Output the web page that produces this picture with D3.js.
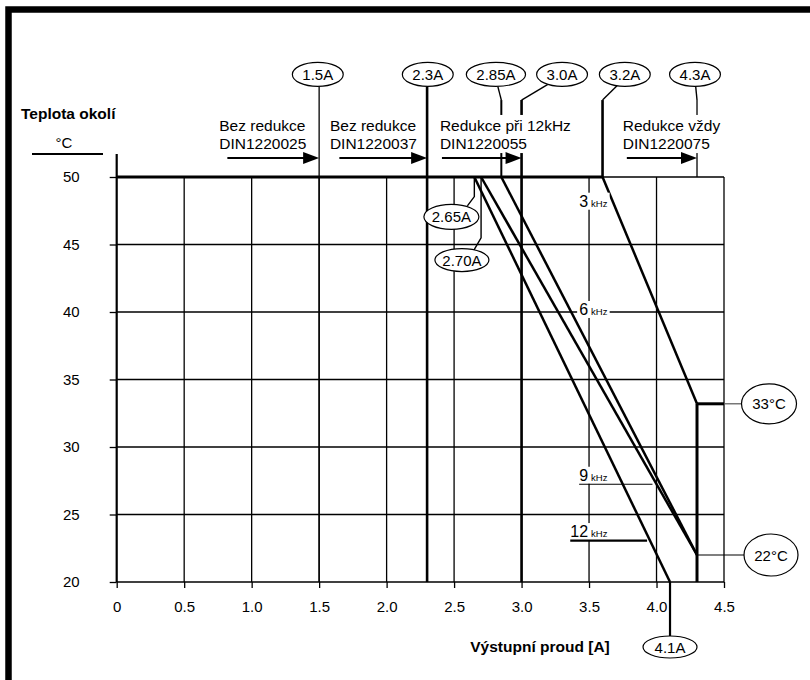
<!DOCTYPE html>
<html><head><meta charset="utf-8">
<script src="https://cdn.jsdelivr.net/npm/d3@7"></script>
<style>body{margin:0;background:#fff}svg{display:block;font-family:"Liberation Sans",Arial,Helvetica,sans-serif}</style>
</head><body><svg id="c" width="810" height="680"></svg>
<script>
// ---- data ----
const xTicks=[0,0.5,1,1.5,2,2.5,3,3.5,4,4.5];
const xTickLabels=["0","0.5","1.0","1.5","2.0","2.5","3.0","3.5","4.0","4.5"];
const yTicks=[20,25,30,35,40,45,50];
const yTickLabels=["20","25","30","35","40","45","50"];
const curveFreq=["3","6","9","12"];
const curveStartCurrent=[3.6,2.85,2.70,2.65];
const curveEndCurrent=[4.3,4.3,4.3,4.1];
const curveEndTemp=[33.2,22,22,20];
const markerLabels=["1.5A","2.3A","2.85A","3.0A","3.2A","4.3A"];
const markerCurrent=[1.5,2.3,2.85,3.0,3.6,4.3];
const markerLabelCurrent=[1.49,2.305,2.81,3.30,3.765,4.285];
const markerEndTemp=[20,20,50,20,50,50];
const markerWidth=[1.3,2.6,2,2.6,2.6,1.3];
const zoneTitles=["Bez redukce","Bez redukce","Redukce při 12kHz","Redukce vždy"];
const zoneModels=["DIN1220025","DIN1220037","DIN1220055","DIN1220075"];
const zoneFrom=[0.82,1.65,2.41,3.78];
const zoneTo=[1.5,2.3,3.0,4.3];
const zoneTextAt=[0.76,1.58,2.395,3.75];

// ---- scales ----
const svg=d3.select("#c");
const x=d3.scaleLinear().domain([0,4.5]).range([116.7,724]);
const y=d3.scaleLinear().domain([20,50]).range([582,177]);
const FS=15;
const FF='"Liberation Sans",Arial,sans-serif';

// frame
svg.append("rect").attr("x",8.5).attr("y",9.5).attr("width",1000).attr("height",1000)
  .attr("fill","none").attr("stroke","#000").attr("stroke-width",6.5);

// grid
const g=svg.append("g");
g.selectAll(".vg").data(xTicks.slice(1)).enter().append("line")
  .attr("x1",d=>x(d)).attr("x2",d=>x(d)).attr("y1",y(50)).attr("y2",y(20))
  .attr("stroke","#000").attr("stroke-width",1.3);
g.selectAll(".hg").data(yTicks.slice(0,-1)).enter().append("line")
  .attr("x1",x(0)).attr("x2",x(4.5)).attr("y1",d=>y(d)).attr("y2",d=>y(d))
  .attr("stroke","#000").attr("stroke-width",1.3);
g.append("line").attr("x1",x(0)).attr("x2",x(4.5)).attr("y1",y(50)).attr("y2",y(50))
  .attr("stroke","#000").attr("stroke-width",1.3);

// axes
const xa=svg.append("g").attr("transform",`translate(0,${y(20)})`)
  .call(d3.axisBottom(x).tickValues(xTicks).tickFormat((d,i)=>xTickLabels[i]).tickSize(6).tickPadding(13));
const ya=svg.append("g").attr("transform",`translate(${x(0)},0)`)
  .call(d3.axisLeft(y).tickValues(yTicks).tickFormat((d,i)=>yTickLabels[i]).tickSize(7).tickPadding(30));
[xa,ya].forEach(a=>{a.select(".domain").remove();
  a.attr("font-size",null).attr("font-family",null);
  a.selectAll("line").attr("stroke","#000").attr("stroke-width",1.3);
  a.selectAll("text").attr("fill","#000").style("font-size",FS+"px").style("font-family",FF);});
svg.append("line").attr("x1",x(0)).attr("x2",x(0)).attr("y1",y(51.7)).attr("y2",y(20))
  .attr("stroke","#000").attr("stroke-width",2.2);

// layers for top markers
const leadG=svg.append("g"), ellG=svg.append("g"), labG=svg.append("g");
const topCy=y(57.6), ry=12, bendY=y(55.7);
markerLabels.forEach((lab,i)=>{
  const mx=x(markerCurrent[i]), cx=x(markerLabelCurrent[i]);
  const t=labG.append("text").attr("x",cx).attr("y",topCy).attr("text-anchor","middle")
    .attr("dominant-baseline","central").style("font-size",FS+"px").text(lab);
  const w=t.node().getComputedTextLength(); const rx=w/2+10;
  const diff=mx-cx;
  if(Math.abs(diff)<2){
    leadG.append("line").attr("x1",mx).attr("x2",mx).attr("y1",topCy+ry).attr("y2",y(markerEndTemp[i]))
      .attr("stroke","#000").attr("stroke-width",markerWidth[i]);
  } else {
    const dx=diff*0.35; const ey=topCy+ry*Math.sqrt(1-(dx/rx)*(dx/rx));
    leadG.append("path").attr("d",d3.line()([[cx+dx,ey],[mx,bendY]])).attr("fill","none")
      .attr("stroke","#000").attr("stroke-width",1.4);
    leadG.append("line").attr("x1",mx).attr("x2",mx).attr("y1",bendY).attr("y2",y(markerEndTemp[i]))
      .attr("stroke","#000").attr("stroke-width",markerWidth[i]);
  }
  ellG.append("ellipse").attr("cx",cx).attr("cy",topCy).attr("rx",rx).attr("ry",ry)
    .attr("fill","#fff").attr("stroke","#000").attr("stroke-width",1.2);
});

// thick 50°C line up to 3kHz knee
svg.append("line").attr("x1",x(0)).attr("x2",x(curveStartCurrent[0])).attr("y1",y(50)).attr("y2",y(50))
  .attr("stroke","#000").attr("stroke-width",3);
svg.append("line").attr("x1",x(4.3)).attr("x2",x(4.3)).attr("y1",y(curveEndTemp[0])).attr("y2",y(20))
  .attr("stroke","#000").attr("stroke-width",3);

// derating curves
curveFreq.forEach((f,i)=>{
  svg.append("line").attr("x1",x(curveStartCurrent[i])).attr("y1",y(50))
    .attr("x2",x(curveEndCurrent[i])).attr("y2",y(curveEndTemp[i]))
    .attr("stroke","#000").attr("stroke-width",2.5);
});

// zone arrows and texts
const arrowY=y(51.4);
zoneTitles.forEach((t,i)=>{
  const x0=x(zoneFrom[i]), x1=x(zoneTo[i]);
  const tg=svg.append("g");
  const bg=tg.append("rect").attr("fill","#fff");
  tg.append("text").attr("x",x(zoneTextAt[i])).attr("y",y(53.41)).style("font-size","15.5px").text(t);
  tg.append("text").attr("x",x(zoneTextAt[i])).attr("y",y(52.07)).style("font-size","15.5px").text(zoneModels[i]);
  const bb=tg.node().getBBox();
  bg.attr("x",bb.x-2).attr("y",bb.y-2).attr("width",bb.width+4).attr("height",bb.height+3);
  svg.append("line").attr("x1",x0).attr("x2",x1-12).attr("y1",arrowY).attr("y2",arrowY)
    .attr("stroke","#000").attr("stroke-width",2);
  svg.append("path").attr("d",`M${x1},${arrowY}L${x1-16},${arrowY-6}L${x1-16},${arrowY+6}Z`).attr("fill","#000");
});

function ellLabel(cx,cy,txt,rx,ryy){
  svg.append("ellipse").attr("cx",cx).attr("cy",cy).attr("rx",rx).attr("ry",ryy)
    .attr("fill","#fff").attr("stroke","#000").attr("stroke-width",1.2);
  svg.append("text").attr("x",cx).attr("y",cy).attr("text-anchor","middle").attr("dominant-baseline","central")
    .style("font-size",FS+"px").text(txt);
}
const l1=[x(2.48),y(47.05)], l2=[x(2.558),y(43.85)];
svg.append("path").attr("d",d3.line()([[l1[0]+16,l1[1]-11],[x(2.65),y(48.55)],[x(2.65),y(50)]]))
  .attr("fill","none").attr("stroke","#000").attr("stroke-width",1.4);
svg.append("path").attr("d",d3.line()([[l2[0]+12,l2[1]-10],[x(2.70),y(45.5)],[x(2.70),y(50)]]))
  .attr("fill","none").attr("stroke","#000").attr("stroke-width",1.4);
ellLabel(l1[0],l1[1],"2.65A",27.5,12.5);
ellLabel(l2[0],l2[1],"2.70A",27,11.5);

svg.append("line").attr("x1",x(4.1)).attr("x2",x(4.1)).attr("y1",y(20)).attr("y2",y(20)+54)
  .attr("stroke","#000").attr("stroke-width",2.2);
ellLabel(x(4.1),y(20)+65,"4.1A",27,11);

svg.append("line").attr("x1",x(4.3)).attr("x2",x(4.5)).attr("y1",y(curveEndTemp[0])).attr("y2",y(curveEndTemp[0]))
  .attr("stroke","#000").attr("stroke-width",3);
svg.append("line").attr("x1",x(4.5)).attr("x2",x(4.3)+46).attr("y1",y(curveEndTemp[0])).attr("y2",y(curveEndTemp[0]))
  .attr("stroke","#555").attr("stroke-width",1.2);
svg.append("line").attr("x1",x(4.3)).attr("x2",x(4.3)+48).attr("y1",y(22)).attr("y2",y(22))
  .attr("stroke","#000").attr("stroke-width",1.2);
ellLabel(x(4.3)+72,y(curveEndTemp[0]),"33°C",27.5,20);
ellLabel(x(4.3)+74,y(22),"22°C",27,21);

// kHz labels
const khzTemp=[47.8,39.78,27.5,23.33];
const underlineEnd=[null,null,3.97,3.93];
const underlineW=[0,0,1.2,2.2];
curveFreq.forEach((f,i)=>{
  const tg=svg.append("g");
  const bg=tg.append("rect").attr("fill","#fff");
  const by=y(khzTemp[i]);
  const n=tg.append("text").attr("x",x(3.5)-1).attr("y",by).attr("text-anchor","end").style("font-size","16px").text(f);
  tg.append("text").attr("x",x(3.5)+2).attr("y",by).style("font-size","9.5px").text("kHz");
  const bb=tg.node().getBBox();
  bg.attr("x",bb.x-2).attr("y",bb.y).attr("width",bb.width+4).attr("height",bb.height);
  if(underlineEnd[i]!==null){
    const nb=n.node().getBBox();
    svg.append("line").attr("x1",nb.x).attr("x2",x(underlineEnd[i])).attr("y1",by+3.5).attr("y2",by+3.5)
      .attr("stroke","#000").attr("stroke-width",underlineW[i]);
  }
});

svg.append("text").attr("x",21).attr("y",119).style("font-size","15.5px").style("font-weight","bold").text("Teplota okolí");
svg.append("text").attr("x",64).attr("y",148).attr("text-anchor","middle").style("font-size",FS+"px").text("°C");
svg.append("line").attr("x1",32).attr("x2",103).attr("y1",154).attr("y2",154).attr("stroke","#000").attr("stroke-width",2);
svg.append("text").attr("x",540).attr("y",652).attr("text-anchor","middle").style("font-size","15.5px").style("font-weight","bold").text("Výstupní proud [A]");
</script></body></html>
